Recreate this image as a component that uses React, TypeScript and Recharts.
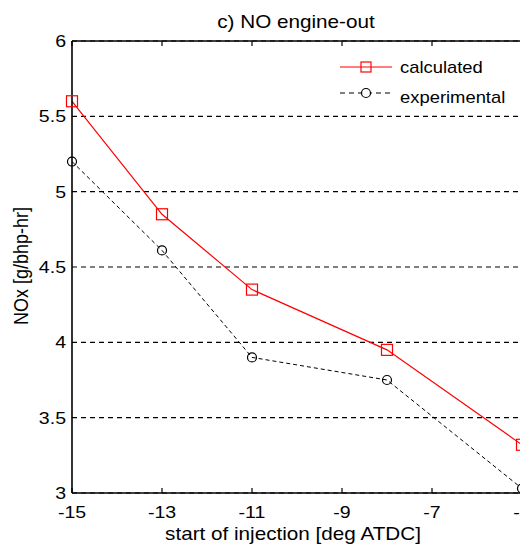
import { LineChart, Line, XAxis, YAxis, CartesianGrid } from 'recharts'

const injectionTiming = [-15, -13, -11, -8, -5]
const calculatedNox = [5.6, 4.85, 4.35, 3.95, 3.32]
const experimentalNox = [5.2, 4.61, 3.9, 3.75, 3.03]
const xTicks = [-15, -13, -11, -9, -7, -5]
const yTicks = [3, 3.5, 4, 4.5, 5, 5.5, 6]

const data = injectionTiming.map((x, i) => ({
  x,
  calculated: calculatedNox[i],
  experimental: experimentalNox[i],
}))

const FONT = '"Liberation Sans", Arial, sans-serif'
const WIDEN = 1.15 // glyphs are drawn a bit wider than tall

// text widened horizontally around its anchor point
const WideText = ({ x, y, size, anchor = 'start', rotate = 0, children }: any) => (
  <text
    transform={`translate(${x},${y}) scale(${WIDEN},1) rotate(${rotate})`}
    textAnchor={anchor}
    fontSize={size}
    fontFamily={FONT}
    fill="#000"
  >
    {children}
  </text>
)

const SquareDot = (props: any) => {
  const { cx, cy } = props
  return <rect x={cx - 5.5} y={cy - 5.5} width={11} height={11} fill="none" stroke="#ff0000" strokeWidth={1.2} />
}

const CircleDot = (props: any) => {
  const { cx, cy } = props
  return <circle cx={cx} cy={cy} r={4.5} fill="none" stroke="#000" strokeWidth={1.2} />
}

// bottom axis: inward tick + label below
const BottomTick = (props: any) => {
  const { x, y, payload } = props
  return (
    <g>
      <line x1={x} y1={y} x2={x} y2={y - 5} stroke="#000" strokeWidth={1.2} />
      <WideText x={x} y={y + 25} size={17} anchor="middle">
        {payload.value}
      </WideText>
    </g>
  )
}

// top axis: inward tick only
const TopTick = (props: any) => {
  const { x, y } = props
  return <line x1={x} y1={y} x2={x} y2={y + 5} stroke="#000" strokeWidth={1.2} />
}

const LeftTick = (props: any) => {
  const { x, y, payload } = props
  return (
    <WideText x={x} y={y + 6} size={17} anchor="end">
      {payload.value}
    </WideText>
  )
}

const LegendBox = () => (
  <svg width={200} height={60} style={{ position: 'absolute', left: 340, top: 57, overflow: 'visible' }}>
    <line x1={0} y1={10} x2={52} y2={10} stroke="#ff0000" strokeWidth={1.2} />
    <rect x={21} y={5} width={10} height={10} fill="none" stroke="#ff0000" strokeWidth={1.2} />
    <WideText x={60} y={16} size={16}>calculated</WideText>
    <line x1={0} y1={36} x2={52} y2={36} stroke="#000" strokeWidth={1} strokeDasharray="5 4" />
    <circle cx={26} cy={36} r={4.5} fill="#fff" stroke="#000" strokeWidth={1.2} />
    <WideText x={60} y={46} size={16}>experimental</WideText>
  </svg>
)

const Captions = () => (
  <svg width={520} height={547} style={{ position: 'absolute', left: 0, top: 0, pointerEvents: 'none' }}>
    <WideText x={296} y={28} size={18} anchor="middle">c) NO engine-out</WideText>
    <WideText x={293} y={540} size={18} anchor="middle">start of injection [deg ATDC]</WideText>
    <WideText x={28} y={266} size={18} anchor="middle" rotate={-90}>NOx [g/bhp-hr]</WideText>
  </svg>
)

export default function App() {
  return (
    <div style={{ position: 'fixed', left: 0, top: 0, width: 520, height: 547, overflow: 'hidden', background: '#fff' }}>
      <LineChart
        width={540}
        height={547}
        data={data}
        margin={{ top: 40, right: 18, bottom: 0, left: 12 }}
        style={{ position: 'absolute', left: 0, top: 0 }}
      >
        <CartesianGrid
          xAxisId="bottom"
          yAxisId="left"
          horizontal
          vertical={false}
          stroke="#000"
          strokeWidth={1.2}
          strokeDasharray="5 4"
        />
        <XAxis
          xAxisId="bottom"
          dataKey="x"
          type="number"
          domain={[-15, -5]}
          ticks={xTicks}
          tickLine={false}
          tickSize={0}
          tickMargin={0}
          tick={<BottomTick />}
          axisLine={{ stroke: '#000', strokeWidth: 1.6 }}
          height={54}
        />
        <XAxis
          xAxisId="top"
          orientation="top"
          dataKey="x"
          type="number"
          domain={[-15, -5]}
          ticks={xTicks}
          tickLine={false}
          tickSize={0}
          tickMargin={0}
          tick={<TopTick />}
          axisLine={{ stroke: '#000', strokeWidth: 1.6 }}
          height={1}
        />
        <YAxis
          yAxisId="left"
          type="number"
          domain={[3, 6]}
          ticks={yTicks}
          tickLine={false}
          tickSize={0}
          tickMargin={6}
          tick={<LeftTick />}
          axisLine={{ stroke: '#000', strokeWidth: 1.6 }}
          width={60}
        />
        <YAxis
          yAxisId="right"
          orientation="right"
          type="number"
          domain={[3, 6]}
          tick={false}
          tickLine={false}
          axisLine={{ stroke: '#000', strokeWidth: 1.6 }}
          width={0}
        />
        <Line
          xAxisId="bottom"
          yAxisId="left"
          dataKey="experimental"
          stroke="#000"
          strokeWidth={1}
          strokeDasharray="4 3"
          dot={<CircleDot />}
          isAnimationActive={false}
        />
        <Line
          xAxisId="bottom"
          yAxisId="left"
          dataKey="calculated"
          stroke="#ff0000"
          strokeWidth={1.2}
          dot={<SquareDot />}
          isAnimationActive={false}
        />
      </LineChart>
      <LegendBox />
      <Captions />
    </div>
  )
}
